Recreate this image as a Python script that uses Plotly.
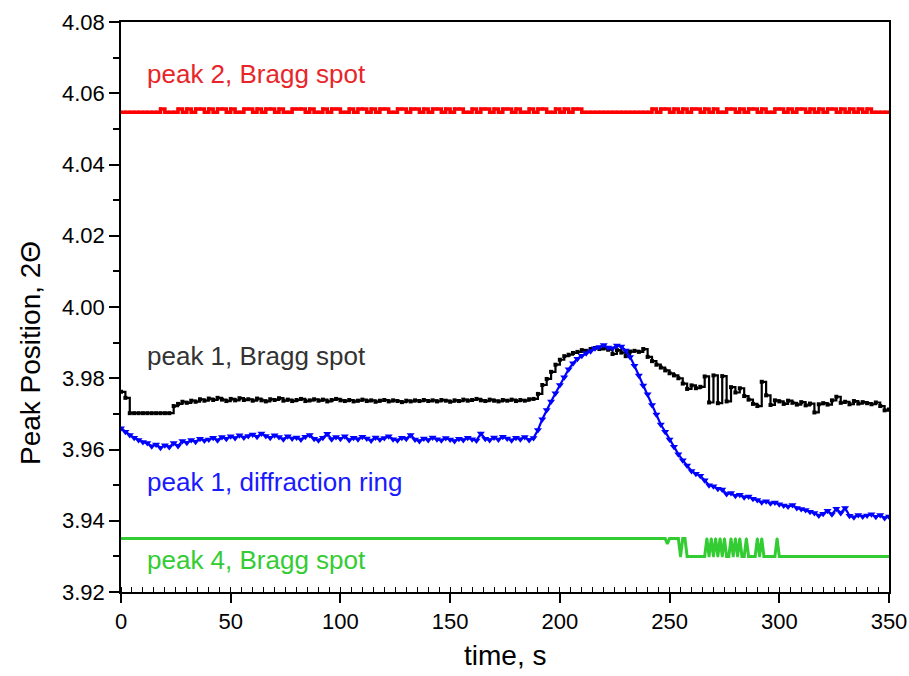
import plotly.graph_objects as go

# ---------------- data ----------------
TIME_2S = list(range(0, 351, 2))   # sampling grid for peaks 1 and 2
TIME_1S = list(range(0, 351, 1))   # sampling grid for peak 4

PEAK1_BRAGG = [
    3.9762, 3.9745, 3.9702, 3.9702, 3.9702, 3.9702, 3.9702, 3.9702, 3.9702, 3.9702,
    3.9702, 3.9702, 3.9722, 3.9728, 3.9734, 3.9731, 3.9737, 3.9734, 3.9741, 3.9737,
    3.9743, 3.9739, 3.9745, 3.9740, 3.9736, 3.9742, 3.9738, 3.9744, 3.9739, 3.9741,
    3.9737, 3.9743, 3.9738, 3.9735, 3.9741, 3.9739, 3.9744, 3.9737, 3.9740, 3.9736,
    3.9739, 3.9742, 3.9736, 3.9738, 3.9741, 3.9737, 3.9740, 3.9735, 3.9739, 3.9742,
    3.9738, 3.9736, 3.9739, 3.9735, 3.9737, 3.9740, 3.9736, 3.9738, 3.9734, 3.9737,
    3.9739, 3.9735, 3.9738, 3.9736, 3.9733, 3.9737, 3.9735, 3.9738, 3.9736, 3.9739,
    3.9736, 3.9738, 3.9735, 3.9739, 3.9737, 3.9734, 3.9738, 3.9736, 3.9740, 3.9737,
    3.9739, 3.9742, 3.9738, 3.9736, 3.9740, 3.9737, 3.9735, 3.9739, 3.9737, 3.9740,
    3.9736, 3.9739, 3.9737, 3.9741, 3.9742, 3.9756, 3.9781, 3.9798, 3.9818, 3.9838,
    3.9852, 3.9862, 3.9866, 3.9871, 3.9874, 3.9879, 3.9877, 3.9882, 3.9885, 3.9882,
    3.9884, 3.9880, 3.9868, 3.9879, 3.9872, 3.9862, 3.9875, 3.9877, 3.9874, 3.9882,
    3.9860, 3.9848, 3.9838, 3.9830, 3.9822, 3.9814, 3.9808, 3.9800, 3.9785, 3.9770,
    3.9780, 3.9772, 3.9776, 3.9805, 3.9732, 3.9808, 3.9730, 3.9806, 3.9735, 3.9775,
    3.9760, 3.9772, 3.9750, 3.9740, 3.9728, 3.9722, 3.9790, 3.9752, 3.9725, 3.9738,
    3.9735, 3.9728, 3.9737, 3.9731, 3.9726, 3.9733, 3.9724, 3.9729, 3.9704, 3.9727,
    3.9730, 3.9726, 3.9738, 3.9748, 3.9731, 3.9734, 3.9727, 3.9736, 3.9729, 3.9733,
    3.9730, 3.9727, 3.9732, 3.9722, 3.9710, 3.9712,
]

PEAK1_RING = [
    3.9660, 3.9650, 3.9641, 3.9633, 3.9627, 3.9621, 3.9618, 3.9609, 3.9614, 3.9605,
    3.9612, 3.9607, 3.9618, 3.9610, 3.9624, 3.9619, 3.9627, 3.9622, 3.9630, 3.9625,
    3.9628, 3.9633, 3.9626, 3.9635, 3.9630, 3.9637, 3.9632, 3.9640, 3.9634, 3.9638,
    3.9642, 3.9636, 3.9645, 3.9638, 3.9633, 3.9640, 3.9635, 3.9629, 3.9637, 3.9631,
    3.9634, 3.9628, 3.9636, 3.9641, 3.9630, 3.9626, 3.9633, 3.9644, 3.9629, 3.9635,
    3.9630, 3.9637, 3.9627, 3.9633, 3.9629, 3.9636, 3.9631, 3.9625, 3.9634, 3.9628,
    3.9632, 3.9637, 3.9629, 3.9626, 3.9633, 3.9630, 3.9641, 3.9628, 3.9624, 3.9631,
    3.9627, 3.9634, 3.9629, 3.9626, 3.9632, 3.9628, 3.9624, 3.9630, 3.9627, 3.9633,
    3.9629, 3.9625, 3.9645, 3.9630, 3.9627, 3.9634, 3.9628, 3.9636, 3.9631, 3.9626,
    3.9633, 3.9629, 3.9635, 3.9627, 3.9632, 3.9655, 3.9685, 3.9711, 3.9735, 3.9758,
    3.9781, 3.9803, 3.9825, 3.9842, 3.9855, 3.9863, 3.9870, 3.9876, 3.9884, 3.9888,
    3.9893, 3.9886, 3.9884, 3.9892, 3.9889, 3.9878, 3.9860, 3.9835, 3.9808, 3.9780,
    3.9755, 3.9725, 3.9698, 3.9670, 3.9650, 3.9628, 3.9608, 3.9587, 3.9570, 3.9555,
    3.9540, 3.9532, 3.9526, 3.9514, 3.9500, 3.9497, 3.9490, 3.9488, 3.9475, 3.9478,
    3.9470, 3.9473, 3.9466, 3.9468, 3.9462, 3.9458, 3.9452, 3.9455, 3.9449, 3.9451,
    3.9446, 3.9443, 3.9440, 3.9444, 3.9436, 3.9433, 3.9430, 3.9425, 3.9422, 3.9415,
    3.9420, 3.9428, 3.9418, 3.9434, 3.9422, 3.9436, 3.9414, 3.9410, 3.9416, 3.9412,
    3.9415, 3.9418, 3.9411, 3.9416, 3.9408, 3.9412,
]

PEAK2_BRAGG = [
    4.0547, 4.0547, 4.0547, 4.0547, 4.0547, 4.0547, 4.0547, 4.0547, 4.0547, 4.0556,
    4.0547, 4.0547, 4.0547, 4.0556, 4.0547, 4.0556, 4.0547, 4.0556, 4.0556, 4.0547,
    4.0556, 4.0547, 4.0556, 4.0556, 4.0547, 4.0556, 4.0547, 4.0547, 4.0556, 4.0556,
    4.0547, 4.0556, 4.0547, 4.0556, 4.0556, 4.0547, 4.0556, 4.0547, 4.0547, 4.0556,
    4.0556, 4.0556, 4.0547, 4.0556, 4.0547, 4.0547, 4.0556, 4.0547, 4.0556, 4.0556,
    4.0547, 4.0547, 4.0556, 4.0547, 4.0556, 4.0556, 4.0547, 4.0556, 4.0547, 4.0556,
    4.0556, 4.0547, 4.0547, 4.0556, 4.0556, 4.0547, 4.0556, 4.0556, 4.0547, 4.0556,
    4.0547, 4.0556, 4.0556, 4.0547, 4.0556, 4.0547, 4.0556, 4.0556, 4.0547, 4.0547,
    4.0556, 4.0547, 4.0556, 4.0556, 4.0547, 4.0556, 4.0547, 4.0556, 4.0556, 4.0547,
    4.0556, 4.0547, 4.0547, 4.0556, 4.0547, 4.0556, 4.0556, 4.0547, 4.0547, 4.0556,
    4.0547, 4.0556, 4.0547, 4.0556, 4.0556, 4.0547, 4.0547, 4.0547, 4.0547, 4.0547,
    4.0547, 4.0547, 4.0547, 4.0547, 4.0547, 4.0547, 4.0547, 4.0547, 4.0547, 4.0547,
    4.0547, 4.0556, 4.0547, 4.0556, 4.0556, 4.0547, 4.0556, 4.0547, 4.0556, 4.0547,
    4.0556, 4.0556, 4.0547, 4.0556, 4.0547, 4.0556, 4.0547, 4.0547, 4.0556, 4.0556,
    4.0547, 4.0556, 4.0547, 4.0556, 4.0556, 4.0547, 4.0556, 4.0547, 4.0547, 4.0556,
    4.0556, 4.0547, 4.0556, 4.0547, 4.0556, 4.0556, 4.0547, 4.0556, 4.0547, 4.0556,
    4.0547, 4.0556, 4.0556, 4.0547, 4.0556, 4.0547, 4.0556, 4.0547, 4.0556, 4.0547,
    4.0556, 4.0547, 4.0547, 4.0547, 4.0547, 4.0547,
]

PEAK4_BRAGG = [
    3.935, 3.935, 3.935, 3.935, 3.935, 3.935, 3.935, 3.935, 3.935, 3.935,
    3.935, 3.935, 3.935, 3.935, 3.935, 3.935, 3.935, 3.935, 3.935, 3.935,
    3.935, 3.935, 3.935, 3.935, 3.935, 3.935, 3.935, 3.935, 3.935, 3.935,
    3.935, 3.935, 3.935, 3.935, 3.935, 3.935, 3.935, 3.935, 3.935, 3.935,
    3.935, 3.935, 3.935, 3.935, 3.935, 3.935, 3.935, 3.935, 3.935, 3.935,
    3.935, 3.935, 3.935, 3.935, 3.935, 3.935, 3.935, 3.935, 3.935, 3.935,
    3.935, 3.935, 3.935, 3.935, 3.935, 3.935, 3.935, 3.935, 3.935, 3.935,
    3.935, 3.935, 3.935, 3.935, 3.935, 3.935, 3.935, 3.935, 3.935, 3.935,
    3.935, 3.935, 3.935, 3.935, 3.935, 3.935, 3.935, 3.935, 3.935, 3.935,
    3.935, 3.935, 3.935, 3.935, 3.935, 3.935, 3.935, 3.935, 3.935, 3.935,
    3.935, 3.935, 3.935, 3.935, 3.935, 3.935, 3.935, 3.935, 3.935, 3.935,
    3.935, 3.935, 3.935, 3.935, 3.935, 3.935, 3.935, 3.935, 3.935, 3.935,
    3.935, 3.935, 3.935, 3.935, 3.935, 3.935, 3.935, 3.935, 3.935, 3.935,
    3.935, 3.935, 3.935, 3.935, 3.935, 3.935, 3.935, 3.935, 3.935, 3.935,
    3.935, 3.935, 3.935, 3.935, 3.935, 3.935, 3.935, 3.935, 3.935, 3.935,
    3.935, 3.935, 3.935, 3.935, 3.935, 3.935, 3.935, 3.935, 3.935, 3.935,
    3.935, 3.935, 3.935, 3.935, 3.935, 3.935, 3.935, 3.935, 3.935, 3.935,
    3.935, 3.935, 3.935, 3.935, 3.935, 3.935, 3.935, 3.935, 3.935, 3.935,
    3.935, 3.935, 3.935, 3.935, 3.935, 3.935, 3.935, 3.935, 3.935, 3.935,
    3.935, 3.935, 3.935, 3.935, 3.935, 3.935, 3.935, 3.935, 3.935, 3.935,
    3.935, 3.935, 3.935, 3.935, 3.935, 3.935, 3.935, 3.935, 3.935, 3.935,
    3.935, 3.935, 3.935, 3.935, 3.935, 3.935, 3.935, 3.935, 3.935, 3.935,
    3.935, 3.935, 3.935, 3.935, 3.935, 3.935, 3.935, 3.935, 3.935, 3.935,
    3.935, 3.935, 3.935, 3.935, 3.935, 3.935, 3.935, 3.935, 3.935, 3.935,
    3.935, 3.935, 3.935, 3.935, 3.935, 3.935, 3.935, 3.935, 3.935, 3.9336,
    3.935, 3.935, 3.935, 3.935, 3.935, 3.930, 3.935, 3.935, 3.930, 3.930,
    3.930, 3.930, 3.930, 3.930, 3.930, 3.930, 3.930, 3.935, 3.930, 3.935,
    3.930, 3.935, 3.930, 3.935, 3.930, 3.935, 3.930, 3.930, 3.935, 3.930,
    3.935, 3.930, 3.935, 3.930, 3.930, 3.935, 3.930, 3.930, 3.930, 3.930,
    3.935, 3.930, 3.935, 3.930, 3.930, 3.930, 3.930, 3.930, 3.930, 3.935,
    3.930, 3.930, 3.930, 3.930, 3.930, 3.930, 3.930, 3.930, 3.930, 3.930,
    3.930, 3.930, 3.930, 3.930, 3.930, 3.930, 3.930, 3.930, 3.930, 3.930,
    3.930, 3.930, 3.930, 3.930, 3.930, 3.930, 3.930, 3.930, 3.930, 3.930,
    3.930, 3.930, 3.930, 3.930, 3.930, 3.930, 3.930, 3.930, 3.930, 3.930,
    3.930, 3.930, 3.930, 3.930, 3.930, 3.930, 3.930, 3.930, 3.930, 3.930,
    3.930,
]

LABELS = ["peak 2, Bragg spot", "peak 1, Bragg spot", "peak 1, diffraction ring", "peak 4, Bragg spot"]
LABEL_X = [11, 11, 11, 11]
LABEL_Y = [4.0654, 3.9862, 3.9509, 3.9290]

X_TICKS = [0, 50, 100, 150, 200, 250, 300, 350]
Y_TICKS = [3.92, 3.94, 3.96, 3.98, 4.00, 4.02, 4.04, 4.06, 4.08]

X_TITLE = "time, s"
Y_TITLE = "Peak Position, 2Θ"

RED = "#ff0000"
BLACK = "#000000"
BLUE = "#0000ff"
GREEN = "#33cc33"
FONT = "Liberation Sans, Arial, sans-serif"

# ---------------- figure ----------------
fig = go.Figure()

fig.add_trace(go.Scatter(
    x=TIME_2S, y=PEAK2_BRAGG, mode="lines+markers", line_shape="hv",
    line=dict(color=RED, width=3.5),
    marker=dict(symbol="square", size=3, color=RED),
))
fig.add_trace(go.Scatter(
    x=TIME_2S, y=PEAK1_BRAGG, mode="lines+markers", line_shape="hv",
    line=dict(color=BLACK, width=2.2),
    marker=dict(symbol="square", size=4, color=BLACK),
))
fig.add_trace(go.Scatter(
    x=TIME_2S, y=PEAK1_RING, mode="lines+markers",
    line=dict(color=BLUE, width=2.2),
    marker=dict(symbol="triangle-down", size=7, color=BLUE),
))
fig.add_trace(go.Scatter(
    x=TIME_1S, y=PEAK4_BRAGG, mode="lines+markers",
    line=dict(color=GREEN, width=3),
    marker=dict(symbol="triangle-up", size=3, color=GREEN),
))

label_colors = ["#e8262a", "#333333", "#1a1aff", "#33cc33"]
for txt, lx, ly, col in zip(LABELS, LABEL_X, LABEL_Y, label_colors):
    fig.add_annotation(
        x=lx, y=ly, text=txt, showarrow=False,
        xanchor="left", yanchor="middle",
        font=dict(family=FONT, size=26, color=col),
    )

# axis titles placed as annotations (paper coordinates)
fig.add_annotation(
    x=0.5, y=-0.112, xref="paper", yref="paper", text=X_TITLE, showarrow=False,
    xanchor="center", yanchor="middle",
    font=dict(family=FONT, size=28, color="black"),
)
fig.add_annotation(
    x=-0.118, y=0.42, xref="paper", yref="paper", text=Y_TITLE, showarrow=False,
    xanchor="center", yanchor="middle", textangle=-90,
    font=dict(family=FONT, size=28, color="black"),
)

fig.update_layout(
    width=909, height=676,
    margin=dict(l=121, r=20, t=22, b=84),
    paper_bgcolor="white", plot_bgcolor="white",
    showlegend=False,
    font=dict(family=FONT, color="black"),
)

fig.update_xaxes(
    range=[0, 350], tickvals=X_TICKS, automargin=False,
    showgrid=False, zeroline=False,
    showline=True, linecolor="black", linewidth=1.5, mirror=True,
    ticks="outside", ticklen=9, tickwidth=1.5, tickcolor="black",
    minor=dict(ticks="inside", dtick=5, ticklen=5, tickwidth=1, tickcolor="black"),
    tickfont=dict(family=FONT, size=22, color="black"),
)
fig.update_yaxes(
    range=[3.92, 4.08], tickvals=Y_TICKS, tickformat=".2f", automargin=False,
    showgrid=False, zeroline=False,
    showline=True, linecolor="black", linewidth=1.5, mirror=True,
    ticks="outside", ticklen=10, tickwidth=1.5, tickcolor="black",
    minor=dict(ticks="outside", dtick=0.01, ticklen=6, tickwidth=1.5, tickcolor="black"),
    tickfont=dict(family=FONT, size=22, color="black"),
)

fig.write_html("out.html")
